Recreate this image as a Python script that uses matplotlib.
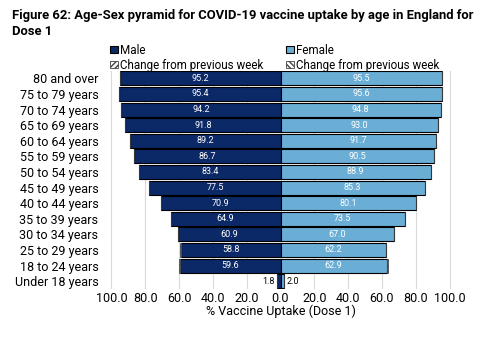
import numpy as np
import matplotlib
matplotlib.use("Agg")
import matplotlib.pyplot as plt

plt.rcParams['font.family'] = ['Roboto', 'DejaVu Sans']

# data
ages = ["80 and over", "75 to 79 years", "70 to 74 years", "65 to 69 years",
        "60 to 64 years", "55 to 59 years", "50 to 54 years", "45 to 49 years",
        "40 to 44 years", "35 to 39 years", "30 to 34 years", "25 to 29 years",
        "18 to 24 years", "Under 18 years"]
male = [95.2, 95.4, 94.2, 91.8, 89.2, 86.7, 83.4, 77.5, 70.9, 64.9, 60.9, 58.8, 59.6, 1.8]
female = [95.5, 95.6, 94.8, 93.0, 91.7, 90.5, 88.9, 85.3, 80.1, 73.5, 67.0, 62.2, 62.9, 2.0]
male_change = [0, 0, 0, 0, 0, 0, 0, 0, 0, 0, 0, 0.4, 0.6, 0]
female_change = [0, 0, 0, 0, 0, 0, 0, 0, 0, 0, 0, 0.3, 0.5, 0]
ticks = [-100, -80, -60, -40, -20, 0, 20, 40, 60, 80, 100]

navy = "#0b2867"
blue = "#6aaed6"

fig = plt.figure(figsize=(5, 3.44), dpi=100)
ax = fig.add_axes([0.216, 0.16, 0.69, 0.635])

y = np.arange(len(ages))
m = -np.array(male)
f = np.array(female)
ax.barh(y, m, height=0.9, color=navy, edgecolor="black", linewidth=0.8, label="Male", zorder=3)
ax.barh(y, -np.array(male_change), left=m, height=0.9, color="white", edgecolor="#444444",
        hatch="//////", linewidth=0.6, label="Change from previous week", zorder=3)
ax.barh(y, f, height=0.9, color=blue, edgecolor="black", linewidth=0.8, label="Female", zorder=3)
ax.barh(y, female_change, left=f, height=0.9, color="white", edgecolor="#444444",
        hatch="\\\\\\\\\\\\", linewidth=0.6, label="Change from previous week", zorder=3)

for i in range(len(ages)):
    if male[i] > 10:
        ax.text(-male[i] / 2, y[i], f"{male[i]:.1f}", color="white", fontsize=6.5,
                ha="center", va="center", zorder=4)
        ax.text(female[i] / 2, y[i], f"{female[i]:.1f}", color="white", fontsize=6.5,
                ha="center", va="center", zorder=4)
    else:
        ax.text(-male[i] - 1.5, y[i], f"{male[i]:.1f}", color="black", fontsize=6.5,
                ha="right", va="center", zorder=4)
        ax.text(female[i] + 1.5, y[i], f"{female[i]:.1f}", color="black", fontsize=6.5,
                ha="left", va="center", zorder=4)

ax.set_xlim(-102, 102)
ax.set_ylim(len(ages) - 0.5, -0.5)
ax.set_yticks(y)
ax.set_yticklabels(ages, fontsize=9)
ax.set_xticks(ticks)
ax.set_xticklabels([f"{abs(t):.1f}" for t in ticks], fontsize=9)
ax.tick_params(axis="x", length=0, pad=2)
ax.tick_params(axis="y", length=0, pad=7)
ax.grid(axis="x", color="#d9d9d9", linewidth=0.8, zorder=0)
for s in ax.spines.values():
    s.set_visible(False)
ax.set_xlabel("% Vaccine Uptake (Dose 1)", fontsize=9, labelpad=0)

ax.legend(ncol=2, loc="lower left", bbox_to_anchor=(0.005, 0.995), frameon=False, fontsize=8.4,
          handlelength=0.7, handleheight=0.6, handletextpad=0.2, columnspacing=1.9,
          labelspacing=0.18, borderpad=0, borderaxespad=0)

fig.text(0.024, 0.975, "Figure 62: Age-Sex pyramid for COVID-19 vaccine uptake by age in England for\nDose 1",
         fontsize=9.4, fontweight="bold", ha="left", va="top", linespacing=1.35)

fig.savefig("out.png", dpi=100)
